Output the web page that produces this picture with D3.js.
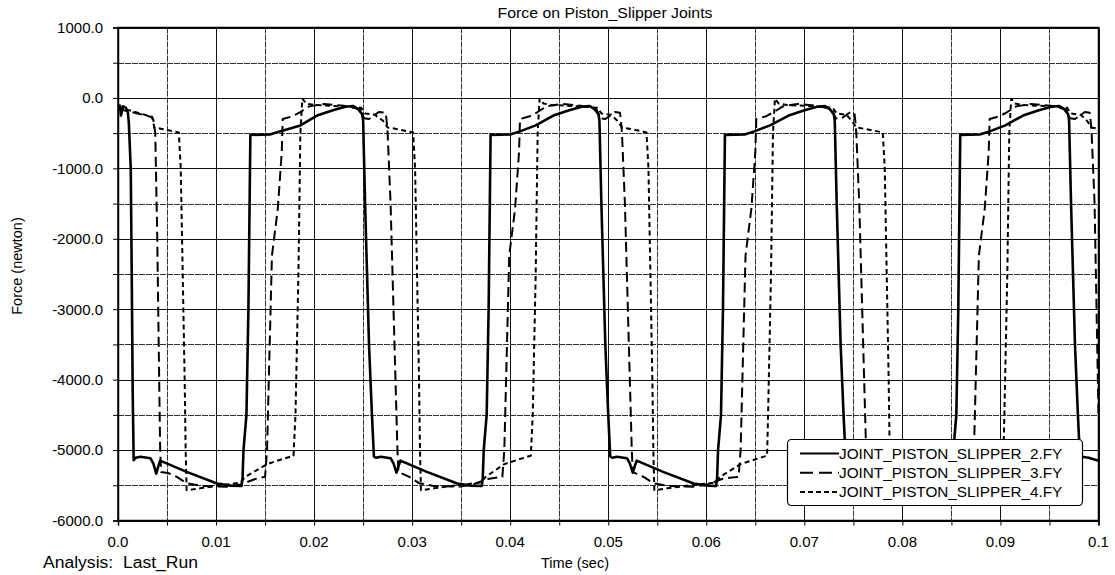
<!DOCTYPE html>
<html><head><meta charset="utf-8">
<script src="https://cdn.jsdelivr.net/npm/d3@7"></script>
<style>
html,body{margin:0;padding:0;background:#fff;}
svg text{font-family:"Liberation Sans",Arial,sans-serif;fill:#000;white-space:pre;}
</style></head>
<body><svg id="c" width="1115" height="575"></svg>
<script>
// ---------- data ----------
const chartTitle = "Force on Piston_Slipper Joints";
const xTitle = "Time (sec)";
const yTitle = "Force (newton)";
const analysisLabel = "Analysis:  Last_Run";
const seriesNames = ["JOINT_PISTON_SLIPPER_2.FY","JOINT_PISTON_SLIPPER_3.FY","JOINT_PISTON_SLIPPER_4.FY"];
const xTicks = [0,0.01,0.02,0.03,0.04,0.05,0.06,0.07,0.08,0.09,0.1];
const xTickLabels = ["0.0","0.01","0.02","0.03","0.04","0.05","0.06","0.07","0.08","0.09","0.1"];
const yTicks = [1000,0,-1000,-2000,-3000,-4000,-5000,-6000];
const yTickLabels = ["1000.0","0.0","-1000.0","-2000.0","-3000.0","-4000.0","-5000.0","-6000.0"];

// [time (sec), force (newton)]
const slipper2 = [
[0.0000,-170],[0.0002,-110],[0.0003,-250],[0.0005,-120],[0.0008,-140],[0.0010,-200],[0.0011,-340],[0.0013,-1000],[0.0014,-2500],[0.0015,-4200],[0.0016,-5145],
[0.0018,-5110],[0.0023,-5095],[0.0033,-5115],[0.0036,-5190],[0.0039,-5335],[0.0041,-5235],[0.0043,-5150],[0.0070,-5310],[0.0101,-5475],[0.0115,-5505],[0.0126,-5510],
[0.0127,-5400],[0.0128,-5000],[0.0131,-4500],[0.0133,-3000],[0.0135,-525],[0.0155,-520],[0.0165,-475],[0.0186,-390],[0.0203,-250],[0.0220,-170],[0.0232,-125],[0.0240,-115],[0.0245,-160],[0.0249,-230],[0.0250,-320],
[0.0252,-1500],[0.0256,-3500],[0.0259,-4500],[0.0261,-5090],
[0.0263,-5110],[0.0268,-5095],[0.0278,-5115],[0.0281,-5190],[0.0284,-5320],[0.0286,-5230],[0.0288,-5150],[0.0315,-5310],[0.0346,-5475],[0.0360,-5505],[0.0371,-5510],
[0.0372,-5400],[0.0373,-5000],[0.0376,-4500],[0.0378,-3000],[0.0380,-525],[0.0400,-520],[0.0410,-475],[0.0426,-390],[0.0444,-250],[0.0461,-170],[0.0473,-125],[0.0481,-115],[0.0486,-160],[0.0490,-230],[0.0491,-320],
[0.0493,-1500],[0.0497,-3500],[0.0500,-4500],[0.0502,-5090],
[0.0504,-5110],[0.0509,-5095],[0.0519,-5115],[0.0522,-5190],[0.0525,-5320],[0.0527,-5230],[0.0529,-5150],[0.0556,-5310],[0.0587,-5475],[0.0601,-5505],[0.0610,-5510],
[0.0611,-5400],[0.0612,-5000],[0.0615,-4500],[0.0617,-3000],[0.0619,-525],[0.0639,-520],[0.0649,-475],[0.0665,-390],[0.0684,-250],[0.0701,-170],[0.0713,-125],[0.0721,-115],[0.0726,-160],[0.0730,-230],[0.0731,-320],
[0.0733,-1500],[0.0737,-3500],[0.0740,-4500],[0.0742,-5090],
[0.0744,-5110],[0.0749,-5095],[0.0759,-5115],[0.0762,-5190],[0.0765,-5320],[0.0767,-5230],[0.0769,-5150],[0.0796,-5310],[0.0827,-5475],[0.0841,-5505],[0.0850,-5510],
[0.0851,-5400],[0.0852,-5000],[0.0855,-4500],[0.0857,-3000],[0.0859,-525],[0.0879,-520],[0.0889,-475],[0.0905,-390],[0.0923,-250],[0.0940,-170],[0.0952,-125],[0.0960,-115],[0.0965,-160],[0.0969,-230],[0.0970,-320],
[0.0972,-1500],[0.0976,-3500],[0.0979,-4500],[0.0981,-5090],[0.0990,-5110],[0.1000,-5150]
];
const slipper3 = [
[0.0000,-150],[0.0007,-180],[0.0020,-220],[0.0034,-270],[0.0036,-310],[0.0038,-500],[0.0040,-1950],[0.0042,-4000],[0.0043,-5000],[0.0044,-5310],
[0.0052,-5330],[0.0060,-5380],[0.0070,-5470],[0.0085,-5510],[0.0110,-5520],[0.0125,-5490],[0.0140,-5410],[0.0150,-5380],
[0.0152,-5000],[0.0157,-2240],[0.0163,-1570],[0.0167,-770],[0.0168,-300],
[0.0178,-260],[0.0186,-200],[0.0195,-120],[0.0210,-85],[0.0230,-110],[0.0247,-160],[0.0251,-290],[0.0256,-300],[0.0266,-200],
[0.0273,-210],[0.0274,-330],[0.0275,-500],[0.0278,-1500],[0.0282,-3500],[0.0285,-5000],[0.0286,-5310],
[0.0289,-5330],[0.0297,-5380],[0.0307,-5470],[0.0322,-5510],[0.0347,-5520],[0.0362,-5490],[0.0377,-5410],[0.0387,-5390],[0.0392,-5380],
[0.0394,-5000],[0.0399,-2240],[0.0405,-1570],[0.0409,-770],[0.0410,-300],
[0.0420,-260],[0.0428,-200],[0.0437,-120],[0.0452,-85],[0.0472,-110],[0.0488,-160],[0.0492,-290],[0.0497,-300],[0.0507,-200],
[0.0512,-210],[0.0513,-330],[0.0514,-500],[0.0517,-1500],[0.0521,-3500],[0.0524,-5000],[0.0525,-5310],
[0.0528,-5330],[0.0536,-5380],[0.0546,-5470],[0.0561,-5510],[0.0586,-5520],[0.0601,-5490],[0.0616,-5410],[0.0626,-5390],[0.0633,-5380],
[0.0635,-5000],[0.0640,-2240],[0.0646,-1570],[0.0650,-770],[0.0651,-300],
[0.0661,-260],[0.0669,-200],[0.0678,-120],[0.0693,-85],[0.0713,-110],[0.0728,-160],[0.0732,-290],[0.0737,-300],[0.0747,-200],
[0.0751,-210],[0.0752,-330],[0.0753,-500],[0.0756,-1500],[0.0760,-3500],[0.0763,-5000],[0.0764,-5310],
[0.0767,-5330],[0.0775,-5380],[0.0785,-5470],[0.0800,-5510],[0.0825,-5520],[0.0840,-5490],[0.0855,-5410],[0.0865,-5390],[0.0871,-5380],
[0.0873,-5000],[0.0878,-2240],[0.0884,-1570],[0.0888,-770],[0.0889,-300],
[0.0899,-260],[0.0907,-200],[0.0916,-120],[0.0931,-85],[0.0951,-110],[0.0967,-160],[0.0971,-290],[0.0976,-300],[0.0986,-200],
[0.0991,-210],[0.0992,-330],[0.0993,-500],[0.0996,-1500],[0.1000,-4500]
];
const slipper4 = [
[0.0000,-130],[0.0010,-170],[0.0025,-230],[0.0035,-270],[0.0037,-420],[0.0045,-440],[0.0062,-490],
[0.0064,-1000],[0.0066,-2500],[0.0068,-4000],[0.0069,-5000],[0.0070,-5570],
[0.0085,-5540],[0.0101,-5510],[0.0125,-5460],[0.0130,-5380],[0.0152,-5200],[0.0165,-5140],[0.0179,-5080],
[0.0181,-4500],[0.0184,-2500],[0.0186,-500],[0.0188,-10],[0.0192,-80],[0.0200,-100],[0.0230,-120],
[0.0248,-140],[0.0252,-220],[0.0262,-240],[0.0270,-320],[0.0275,-420],[0.0284,-440],
[0.0301,-490],[0.0303,-1000],[0.0305,-2500],[0.0307,-4000],[0.0308,-5000],[0.0309,-5570],
[0.0324,-5540],[0.0340,-5510],[0.0370,-5460],[0.0375,-5380],[0.0394,-5200],[0.0407,-5140],[0.0421,-5080],
[0.0423,-4500],[0.0426,-2500],[0.0428,-500],[0.0430,-10],[0.0434,-80],[0.0442,-100],[0.0472,-120],
[0.0489,-140],[0.0493,-220],[0.0503,-240],[0.0509,-320],[0.0514,-420],[0.0523,-440],
[0.0539,-490],[0.0541,-1000],[0.0543,-2500],[0.0545,-4000],[0.0546,-5000],[0.0547,-5570],
[0.0562,-5540],[0.0578,-5510],[0.0609,-5460],[0.0614,-5380],[0.0635,-5200],[0.0648,-5140],[0.0662,-5080],
[0.0663,-4500],[0.0666,-2500],[0.0668,-500],[0.0670,-10],[0.0674,-80],[0.0682,-100],[0.0712,-120],
[0.0729,-140],[0.0733,-220],[0.0743,-240],[0.0748,-320],[0.0753,-420],[0.0762,-440],
[0.0780,-490],[0.0782,-1000],[0.0784,-2500],[0.0786,-4000],[0.0787,-5000],[0.0788,-5570],
[0.0803,-5540],[0.0819,-5510],[0.0849,-5460],[0.0854,-5380],[0.0873,-5200],[0.0886,-5140],[0.0903,-5080],
[0.0904,-4500],[0.0907,-2500],[0.0909,-500],[0.0911,-10],[0.0915,-80],[0.0923,-100],[0.0953,-120],
[0.0968,-140],[0.0972,-220],[0.0982,-240],[0.0988,-320],[0.0993,-420],[0.1000,-440]
];
const seriesData = [slipper2, slipper3, slipper4];
const seriesDash = [null, "10,5", "5,3.5"];
const legendDash = [null, "13,6", "5,3"];

// ---------- layout ----------
const svg = d3.select("#c");
const L = 118, R = 1098.5, T = 27.5, B = 520.5;
const x = d3.scaleLinear().domain([0, 0.1]).range([L, R]);
const y = d3.scaleLinear().domain([-6000, 1000]).range([B, T]);

// grid
const g = svg.append("g");
const minorX = d3.range(0, 21).map(i => i * 0.005);
const minorY = d3.range(0, 15).map(i => -6000 + i * 500);
g.selectAll(".gx").data(minorX).join("line")
  .attr("x1", d => Math.round(x(d)) + 0.5).attr("x2", d => Math.round(x(d)) + 0.5)
  .attr("y1", T).attr("y2", B)
  .attr("stroke", (d, i) => i % 2 ? "#333" : "#111").attr("stroke-width", 1)
  .attr("stroke-dasharray", (d, i) => i % 2 ? "6,1" : null);
g.selectAll(".gy").data(minorY).join("line")
  .attr("y1", d => Math.round(y(d)) + 0.5).attr("y2", d => Math.round(y(d)) + 0.5)
  .attr("x1", L).attr("x2", R)
  .attr("stroke", (d, i) => i % 2 ? "#333" : "#111").attr("stroke-width", 1)
  .attr("stroke-dasharray", (d, i) => i % 2 ? "6,1" : null);

// axes (ticks outward)
const xAxis = d3.axisBottom(x).tickValues(minorX).tickSize(5).tickFormat("");
const yAxis = d3.axisLeft(y).tickValues(minorY).tickSize(5).tickFormat("");
svg.append("g").attr("transform", `translate(0,${B})`).call(xAxis)
  .call(s => s.select(".domain").attr("stroke", "#000").attr("stroke-width", 1.5));
svg.append("g").attr("transform", `translate(${L},0)`).call(yAxis)
  .call(s => s.select(".domain").attr("stroke", "#000").attr("stroke-width", 1.5));
svg.append("rect").attr("x", L).attr("y", T).attr("width", R - L).attr("height", B - T)
  .attr("fill", "none").attr("stroke", "#000").attr("stroke-width", 1.5);

// tick labels
svg.append("g").selectAll("text").data(xTicks).join("text")
  .attr("x", d => x(d)).attr("y", 547).attr("text-anchor", "middle")
  .attr("font-size", 15).text((d, i) => xTickLabels[i]);
svg.append("g").selectAll("text").data(yTicks).join("text")
  .attr("x", 103).attr("y", d => y(d)).attr("dy", "0.36em").attr("text-anchor", "end")
  .attr("font-size", 15).text((d, i) => yTickLabels[i]);

// titles
svg.append("text").attr("x", 605).attr("y", 18).attr("text-anchor", "middle").attr("font-size", 15.5)
  .attr("textLength", 215).attr("lengthAdjust", "spacingAndGlyphs").text(chartTitle);
svg.append("text").attr("x", 575).attr("y", 568).attr("text-anchor", "middle").attr("font-size", 14.5).text(xTitle);
svg.append("text").attr("x", 43).attr("y", 568).attr("font-size", 16)
  .attr("textLength", 155).attr("lengthAdjust", "spacingAndGlyphs").text(analysisLabel);
svg.append("text").attr("transform", "translate(22,266) rotate(-90)").attr("text-anchor", "middle").attr("font-size", 14.5).text(yTitle);

// series
const line = d3.line().x(d => x(d[0])).y(d => y(d[1]));
svg.append("clipPath").attr("id", "pc").append("rect")
  .attr("x", L).attr("y", T).attr("width", R - L).attr("height", B - T);
svg.append("g").attr("clip-path", "url(#pc)").selectAll("path").data(seriesData).join("path")
  .attr("d", line).attr("fill", "none").attr("stroke", "#000")
  .attr("stroke-width", (d, i) => i === 0 ? 2.6 : 2)
  .attr("stroke-linejoin", "round")
  .attr("stroke-dasharray", (d, i) => seriesDash[i]);

// legend
const lg = svg.append("g");
lg.append("rect").attr("x", 787.5).attr("y", 439.5).attr("width", 295).attr("height", 66).attr("rx", 4)
  .attr("fill", "#fff").attr("stroke", "#000").attr("stroke-width", 1.2);
seriesNames.forEach((n, i) => {
  const cy = 453.5 + i * 19.2;
  lg.append("line").attr("x1", 800).attr("x2", 839).attr("y1", cy).attr("y2", cy)
    .attr("stroke", "#000").attr("stroke-width", 2).attr("stroke-dasharray", legendDash[i]);
  lg.append("text").attr("x", 839).attr("y", cy).attr("dy", "0.36em").attr("font-size", 15.3).text(n);
});
</script></body></html>
